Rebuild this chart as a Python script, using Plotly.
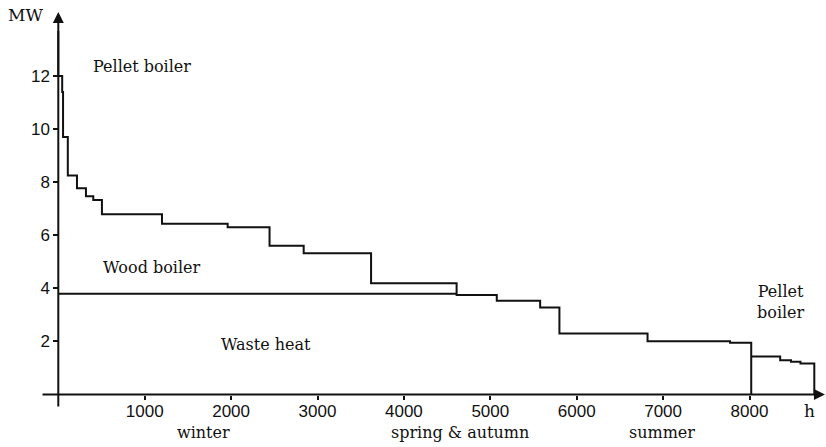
import plotly.graph_objects as go

# Load duration curve (hours, MW) - step levels
hours = [0, 0, 45, 55, 110, 216, 320, 405, 505, 1200, 1960, 2445, 2840, 3620, 4610, 5075, 5577, 5800, 6820, 7775, 8020]
load_mw = [13.7, 12.0, 11.4, 9.7, 8.25, 7.77, 7.47, 7.33, 6.79, 6.43, 6.30, 5.60, 5.32, 4.19, 3.75, 3.53, 3.28, 2.30, 2.01, 1.95, 0.0]

# Summer tail covered by pellet boiler
tail_hours = [8020, 8355, 8480, 8590, 8750]
tail_mw = [1.43, 1.29, 1.23, 1.17, 0.0]

# Waste heat capacity line
waste_hours = [0, 4610]
waste_mw = [3.8, 3.8]

x_ticks = [1000, 2000, 3000, 4000, 5000, 6000, 7000, 8000]
y_ticks = [2, 4, 6, 8, 10, 12]

XR = [-674.8, 8885.4]
YR = [-1.978, 14.864]
INK = "#111111"
SERIF = "DejaVu Serif"
SANS = "Liberation Sans"

fig = go.Figure()
fig.add_trace(go.Scatter(x=hours, y=load_mw, mode="lines", line=dict(shape="hv", color=INK, width=2), hoverinfo="skip"))
fig.add_trace(go.Scatter(x=tail_hours, y=tail_mw, mode="lines", line=dict(shape="hv", color=INK, width=2), hoverinfo="skip"))
fig.add_trace(go.Scatter(x=waste_hours, y=waste_mw, mode="lines", line=dict(color=INK, width=2), hoverinfo="skip"))

# axis lines with arrowheads
fig.add_annotation(x=0, y=14.41, ax=0, ay=-0.51, xref="x", yref="y", axref="x", ayref="y",
                   showarrow=True, arrowhead=2, arrowsize=1.1, arrowwidth=2, arrowcolor=INK, text="")
fig.add_annotation(x=8873, y=0, ax=-200, ay=0, xref="x", yref="y", axref="x", ayref="y",
                   showarrow=True, arrowhead=2, arrowsize=1.1, arrowwidth=2, arrowcolor=INK, text="")

labels = [
    ("MW", -374, 14.30, 17),
    ("Pellet boiler", 969, 12.34, 16),
    ("Wood boiler", 1090, 4.80, 16),
    ("Waste heat", 2404, 1.87, 16),
    ("Pellet<br>boiler", 8365, 3.50, 16),
    ("winter", 1675, -1.45, 16),
    ("spring &amp; autumn", 4649, -1.43, 16),
    ("summer", 6987, -1.45, 16),
    ("h", 8700, -0.62, 17),
]
for txt, lx, ly, sz in labels:
    fig.add_annotation(x=lx, y=ly, xref="x", yref="y", text=txt, showarrow=False,
                       font=dict(family=SERIF, size=sz, color=INK), xanchor="center", yanchor="middle")

fig.update_layout(
    width=826, height=447,
    margin=dict(l=0, r=0, t=0, b=0),
    paper_bgcolor="white", plot_bgcolor="white",
    showlegend=False,
    xaxis=dict(range=XR, domain=[0, 1], anchor="free", position=(447 - 394.5) / 447,
               showgrid=False, zeroline=False, showline=False,
               tickmode="array", tickvals=x_ticks, ticks="outside", ticklen=4, tickwidth=1.5, tickcolor=INK,
               ticklabelstandoff=-3,
               tickfont=dict(family=SANS, size=17, color=INK), automargin=False),
    yaxis=dict(range=YR, domain=[0, 1], anchor="free", position=58.3 / 826,
               showgrid=False, zeroline=False, showline=False,
               tickmode="array", tickvals=y_ticks, ticks="outside", ticklen=5, tickwidth=1.5, tickcolor=INK,
               tickfont=dict(family=SANS, size=17, color=INK), automargin=False),
)

fig.write_html("out.html", config={"displayModeBar": False},
               post_script="document.body.style.margin='0';document.body.style.overflow='hidden';")
